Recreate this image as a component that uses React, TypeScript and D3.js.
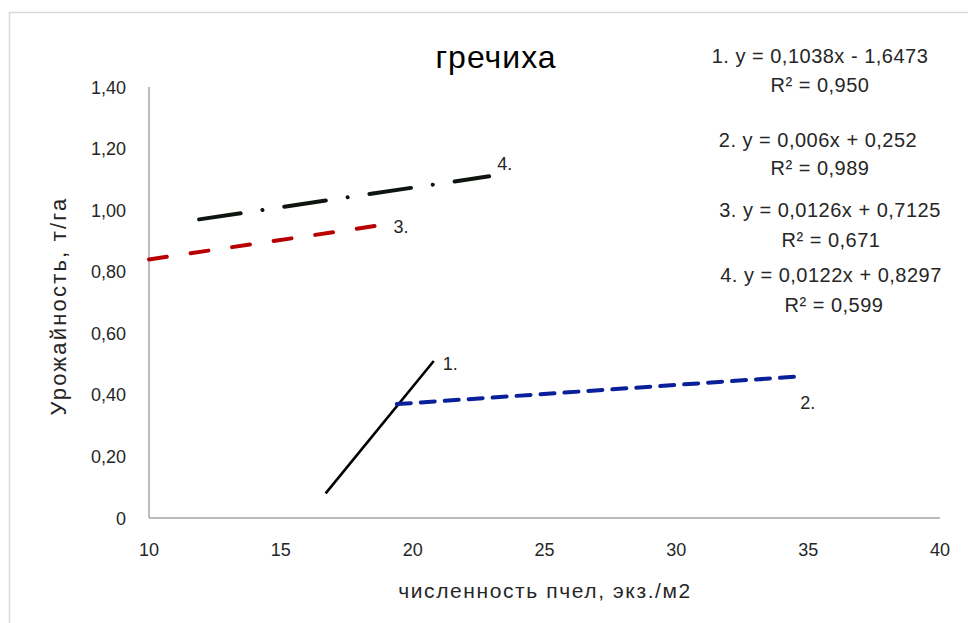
import React from "react";
import * as d3 from "d3";

const title = "гречиха";
const xAxisTitle = "численность пчел, экз./м2";
const yAxisTitle = "Урожайность, т/га";

const xTicks = [10, 15, 20, 25, 30, 35, 40];
const yTicks = [0, 0.2, 0.4, 0.6, 0.8, 1.0, 1.2, 1.4];

const seriesNames = ["1.", "2.", "3.", "4."];
const xStart = [16.7, 19.4, 10, 11.9];
const xEnd = [20.8, 34.7, 18.7, 22.9];
const yStart = [0.08, 0.37, 0.84, 0.97];
const yEnd = [0.51, 0.46, 0.95, 1.11];

const equations = [
  "1. y = 0,1038x - 1,6473",
  "2.  y = 0,006x + 0,252",
  "3.  y = 0,0126x + 0,7125",
  "4. y = 0,0122x + 0,8297",
];
const rSquared = ["R² = 0,950", "R² = 0,989", "R² = 0,671", "R² = 0,599"];

// styles
const lineStyles = [
  { color: "#000000", width: 2.6, dash: "none", cap: "butt" },
  { color: "#0a1f9a", width: 4, dash: "14,10", cap: "round" },
  { color: "#b80000", width: 4, dash: "18,24", cap: "round" },
  { color: "#0e140e", width: 4, dash: "42,22,0.1,22", cap: "round" },
];
const labelOffsets = [
  [9, 9],
  [0, 33],
  [15, 7],
  [8, -6],
];
const eqLayout = [
  { x: 820, y: 63, rx: 820, ry: 92 },
  { x: 818, y: 147, rx: 820, ry: 175 },
  { x: 830, y: 217, rx: 831, ry: 247 },
  { x: 831, y: 282, rx: 834, ry: 312 },
];

const FONT = "'Liberation Sans', Arial, sans-serif";

export default function App() {
  const W = 968;
  const H = 623;
  const x = d3.scaleLinear().domain([10, 40]).range([149, 940]);
  const y = d3.scaleLinear().domain([0, 1.4]).range([518, 87]);
  const fmtY = (v: number) => (v === 0 ? "0" : d3.format(".2f")(v).replace(".", ","));
  const lineGen = d3
    .line<[number, number]>()
    .x((d) => x(d[0]))
    .y((d) => y(d[1]));

  return (
    <svg
      width={W}
      height={H}
      style={{ position: "absolute", left: 0, top: 0, background: "#fff" }}
      fontFamily={FONT}
    >
      <rect x={0} y={0} width={W} height={H} fill="#fff" />
      <path d={`M9.5,${H} V12.5 H${W}`} fill="none" stroke="#d9d9d9" strokeWidth={1.5} />

      <text x={496} y={68} textAnchor="middle" fontSize={32} letterSpacing={1} fill="#000">
        {title}
      </text>

      {/* axes */}
      <line x1={x(10)} x2={x(10)} y1={y(1.4)} y2={y(0)} stroke="#a6a6a6" strokeWidth={1.5} />
      <line x1={x(10)} x2={x(40)} y1={y(0)} y2={y(0)} stroke="#a6a6a6" strokeWidth={1.5} />

      {yTicks.map((t) => (
        <text key={t} x={126} y={y(t) + 6.5} textAnchor="end" fontSize={18} fill="#262626">
          {fmtY(t)}
        </text>
      ))}
      {xTicks.map((t) => (
        <text key={t} x={x(t)} y={556} textAnchor="middle" fontSize={18} fill="#262626">
          {t}
        </text>
      ))}

      <text x={545} y={598} textAnchor="middle" fontSize={21} letterSpacing={1.6} fill="#262626">
        {xAxisTitle}
      </text>
      <text
        transform={`translate(66,306) rotate(-90)`}
        textAnchor="middle"
        fontSize={22}
        letterSpacing={2.2}
        fill="#262626"
      >
        {yAxisTitle}
      </text>

      {seriesNames.map((name, i) => {
        const pts: [number, number][] = [
          [xStart[i], yStart[i]],
          [xEnd[i], yEnd[i]],
        ];
        const st = lineStyles[i];
        return (
          <g key={name}>
            <path
              d={lineGen(pts) || ""}
              fill="none"
              stroke={st.color}
              strokeWidth={st.width}
              strokeDasharray={st.dash}
              strokeLinecap={st.cap as any}
            />
            <text
              x={x(xEnd[i]) + labelOffsets[i][0]}
              y={y(yEnd[i]) + labelOffsets[i][1]}
              fontSize={18}
              fill="#262626"
            >
              {name}
            </text>
          </g>
        );
      })}

      {equations.map((eq, i) => (
        <g key={eq}>
          <text
            x={eqLayout[i].x}
            y={eqLayout[i].y}
            textAnchor="middle"
            fontSize={20}
            letterSpacing={0.5}
            fill="#262626"
          >
            {eq}
          </text>
          <text
            x={eqLayout[i].rx}
            y={eqLayout[i].ry}
            textAnchor="middle"
            fontSize={20}
            letterSpacing={0.5}
            fill="#262626"
          >
            {rSquared[i]}
          </text>
        </g>
      ))}
    </svg>
  );
}
